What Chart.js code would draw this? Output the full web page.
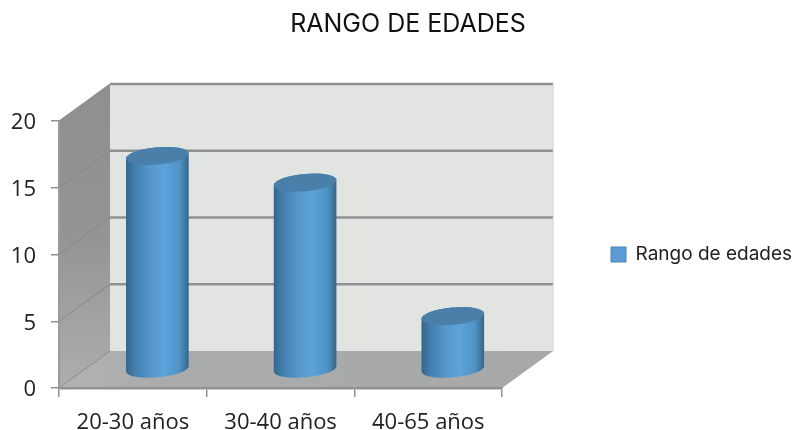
<!DOCTYPE html>
<html><head><meta charset="utf-8">
<style>html,body{margin:0;padding:0;background:#fff}#w{width:797px;height:430px}</style>
<script src="https://cdn.jsdelivr.net/npm/chart.js@4"></script>
</head><body><div id="w"><canvas id="c" width="797" height="430"></canvas></div>
<script>
const categories = ['20-30 años', '30-40 años', '40-65 años'];
const seriesName = 'Rango de edades';
const seriesValues = [16, 14, 4];
const chartTitle = 'RANGO DE EDADES';

const DEPTH_X = 51, DEPTH_Y = -37;
const BAR_SHIFT_X = 24.5, BAR_SHIFT_Y = -18.5;
const RY = 8.6, ROT = -0.09;

function poly(ctx, pts, fill){
  ctx.beginPath();
  pts.forEach((p,i)=> i ? ctx.lineTo(p[0],p[1]) : ctx.moveTo(p[0],p[1]));
  ctx.closePath(); ctx.fillStyle = fill; ctx.fill();
}
function seg(ctx,x1,y1,x2,y2,color,w){
  ctx.beginPath(); ctx.moveTo(x1,y1); ctx.lineTo(x2,y2);
  ctx.strokeStyle=color; ctx.lineWidth=w; ctx.stroke();
}
const box3d = {
  id:'box3d',
  afterLayout(chart){
    chart.titleBlock.left = 19;
    chart.legend.left = 601;
  },
  beforeDraw(chart){
    const {ctx, chartArea:a, scales:{y}} = chart;
    const dx=DEPTH_X, dy=DEPTH_Y;
    const L=a.left, R=a.right, T=a.top, B=a.bottom;
    ctx.save();
    poly(ctx,[[L+dx,T+dy],[R+dx,T+dy],[R+dx,B+dy],[L+dx,B+dy]],'#e2e4e2');
    let g=ctx.createLinearGradient(0,T+dy,0,B);
    g.addColorStop(0,'#8e9090'); g.addColorStop(0.5,'#939595'); g.addColorStop(1,'#adafaf');
    poly(ctx,[[L,T],[L+dx,T+dy],[L+dx,B+dy],[L,B]],g);
    g=ctx.createLinearGradient(L,0,R+dx,0);
    g.addColorStop(0,'#b2b4b4'); g.addColorStop(0.2,'#aaacac'); g.addColorStop(1,'#a7a9a9');
    poly(ctx,[[L,B],[L+dx,B+dy],[R+dx,B+dy],[R,B]],g);
    y.ticks.forEach(t=>{
      const py=y.getPixelForValue(t.value);
      seg(ctx,L,py,L+dx,py+dy,'#868888',1);
      if(t.value>0) seg(ctx,L+dx,py+dy,R+dx,py+dy,'#8f9191',2.6);
    });
    seg(ctx,R+dx,T+dy,R+dx,B+dy,'#d4d6d4',1);
    ctx.restore();
  },
  beforeDatasetDraw(){ return false; },
  afterDatasetsDraw(chart){
    const {ctx} = chart;
    const meta = chart.getDatasetMeta(0);
    meta.data.forEach(bar=>{
      const cx=bar.x+BAR_SHIFT_X, rx=bar.width/2;
      const ty=bar.y+BAR_SHIFT_Y, by=bar.base+BAR_SHIFT_Y;
      const sin=Math.sin(ROT)*rx;
      ctx.save();
      const g=ctx.createLinearGradient(cx-rx,0,cx+rx,0);
      g.addColorStop(0,'#356488');
      g.addColorStop(0.14,'#427fae');
      g.addColorStop(0.38,'#5595cb');
      g.addColorStop(0.6,'#5ca4dc');
      g.addColorStop(0.85,'#5093c6');
      g.addColorStop(0.97,'#3b6f96');
      g.addColorStop(1,'#35648a');
      ctx.beginPath();
      ctx.ellipse(cx,by,rx,RY,ROT,Math.PI,0,true);
      ctx.lineTo(cx+rx*Math.cos(ROT),ty+sin);
      ctx.ellipse(cx,ty,rx,RY,ROT,0,Math.PI,true);
      ctx.closePath();
      ctx.fillStyle=g; ctx.fill();
      ctx.beginPath();
      ctx.ellipse(cx,ty,rx,RY,ROT,0,Math.PI*2);
      ctx.fillStyle='#4a7fa9'; ctx.fill();
      ctx.restore();
    });
  }
};
const spacer = {
  id:'spacer',
  start(chart){
    Chart.layouts.addBox(chart,{
      position:'right', weight:500, fullSize:false, width:0, height:0, options:{},
      isHorizontal(){return false;},
      update(w,h){ this.width=162; this.height=h; return {}; },
      getPadding(){ return {left:0,right:0,top:0,bottom:0}; },
      draw(){}
    });
  }
};

new Chart(document.getElementById('c'),{
  type:'bar',
  data:{labels:categories,datasets:[{
    label:seriesName,data:seriesValues,
    backgroundColor:'#5b9bd5',borderColor:'#4a86b8',borderWidth:1,
    categoryPercentage:1,barPercentage:0.4257
  }]},
  plugins:[box3d,spacer],
  options:{
    responsive:false,animation:false,
    layout:{autoPadding:false,padding:{left:0,right:0,top:0,bottom:0}},
    plugins:{
      tooltip:{enabled:false},
      title:{display:true,text:chartTitle,color:'#111',
        font:{family:'Inter',size:25,weight:'normal'},
        padding:{top:9,bottom:82}},
      legend:{position:'right',fullSize:false,
        labels:{color:'#222',boxWidth:15,boxHeight:15,padding:10,
          font:{family:'Inter',size:19}}}
    },
    scales:{
      x:{
        afterFit(s){ s.height=42; },
        grid:{display:true,drawOnChartArea:false,drawTicks:true,tickLength:9,color:'#8f9191',lineWidth:1.5},
        border:{display:true,color:'#8f9191',width:2.5},
        ticks:{color:'#222',padding:13,maxRotation:0,font:{family:'Open Sans',size:22}}
      },
      y:{
        min:0,max:20,
        afterFit(s){ s.width=59; },
        grid:{display:true,drawOnChartArea:false,drawTicks:true,tickLength:8,color:'#8f9191',lineWidth:1.5},
        border:{display:true,color:'#9a9c9c',width:2},
        ticks:{stepSize:5,color:'#222',padding:15,labelOffset:2,font:{family:'Open Sans',size:22}}
      }
    }
  }
});
</script></body></html>
